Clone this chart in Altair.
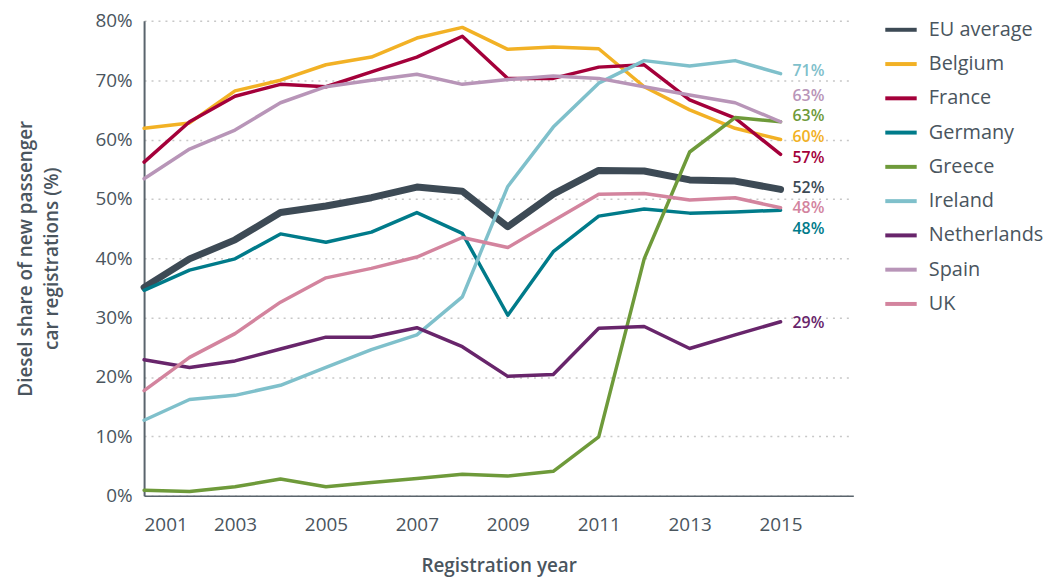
import altair as alt
import pandas as pd

years = list(range(2001, 2016))

series_names = ["EU average", "Belgium", "France", "Germany", "Greece",
                "Ireland", "Netherlands", "Spain", "UK"]

eu_average = [35.1, 39.9, 43.1, 47.7, 48.8, 50.2, 52.0, 51.3, 45.3, 50.8, 54.8, 54.7, 53.2, 53.0, 51.6]
belgium = [61.9, 62.8, 68.2, 70.0, 72.6, 73.9, 77.1, 78.9, 75.2, 75.6, 75.3, 68.9, 65.0, 61.9, 60.0]
france = [56.2, 63.0, 67.3, 69.3, 68.9, 71.4, 73.9, 77.4, 70.3, 70.3, 72.2, 72.6, 66.7, 63.6, 57.5]
germany = [34.6, 38.0, 39.9, 44.1, 42.7, 44.4, 47.7, 44.2, 30.4, 41.1, 47.1, 48.3, 47.6, 47.8, 48.1]
greece = [0.9, 0.7, 1.5, 2.8, 1.5, 2.2, 2.9, 3.6, 3.3, 4.1, 9.9, 39.9, 57.9, 63.7, 63.0]
ireland = [12.7, 16.2, 16.9, 18.6, 21.6, 24.6, 27.1, 33.5, 52.1, 62.1, 69.5, 73.3, 72.4, 73.3, 71.1]
netherlands = [22.9, 21.6, 22.7, 24.7, 26.7, 26.7, 28.3, 25.1, 20.1, 20.4, 28.2, 28.5, 24.8, 27.1, 29.3]
spain = [53.4, 58.4, 61.6, 66.2, 68.9, 70.0, 71.0, 69.3, 70.1, 70.7, 70.3, 68.9, 67.5, 66.2, 63.0]
uk = [17.7, 23.3, 27.3, 32.6, 36.7, 38.3, 40.2, 43.5, 41.8, 46.3, 50.8, 50.9, 49.8, 50.2, 48.5]

all_values = [eu_average, belgium, france, germany, greece, ireland, netherlands, spain, uk]

colors = ["#3d4a55", "#f2b125", "#a4003a", "#007b8a", "#6e9a3a",
          "#7fc0cb", "#68256b", "#b895b8", "#d3849e"]

# end labels (text and the value level at which each label sits)
label_series = ["Ireland", "Spain", "Greece", "Belgium", "France", "EU average", "UK", "Germany", "Netherlands"]
label_text = ["71%", "63%", "63%", "60%", "57%", "52%", "48%", "48%", "29%"]
label_level = [71.5, 67.4, 64.0, 60.5, 56.9, 51.9, 48.5, 45.0, 29.1]

rows = []
for name, vals in zip(series_names, all_values):
    for yr, v in zip(years, vals):
        rows.append({"year": yr, "share": v, "series": name,
                     "w": 7 if name == "EU average" else 3.5})
df = pd.DataFrame(rows)

lab = pd.DataFrame({"series": label_series, "text": label_text,
                    "level": label_level, "year": [2015] * len(label_series)})

FONT = "Open Sans"
TEXTC = "#4a555e"

color_scale = alt.Scale(domain=series_names, range=colors)

x_enc = alt.X("year:Q",
              scale=alt.Scale(domain=[2001, 2016.6], nice=False, zero=False),
              axis=alt.Axis(values=list(range(2001, 2016, 2)), format="d",
                            title="Registration year", grid=False, ticks=False,
                            labelPadding=20, titlePadding=22,
                            domainColor="#5a646c", domainWidth=1.5))

lines = alt.Chart(df).mark_line(strokeCap="round", strokeJoin="round").encode(
    x=x_enc,
    y=alt.Y("share:Q",
            scale=alt.Scale(domain=[0, 80], nice=False),
            axis=alt.Axis(values=list(range(0, 81, 10)),
                          labelExpr="datum.value + '%'",
                          title=["Diesel share of new passenger", "car registrations (%)"],
                          titleLineHeight=26,
                          ticks=False, labelPadding=12, titlePadding=34,
                          domainColor="#5a646c", domainWidth=2,
                          gridColor="#c8c8c8", gridDash=[2, 5], gridWidth=1.5)),
    color=alt.Color("series:N", scale=color_scale, sort=series_names,
                    legend=alt.Legend(title=None, orient="none",
                                      legendX=744, legendY=-9,
                                      symbolType="stroke", symbolStrokeWidth=4,
                                      symbolSize=1000, labelFontSize=20,
                                      labelColor=TEXTC, labelFont=FONT,
                                      labelOffset=10, rowPadding=6.5)),
    strokeWidth=alt.StrokeWidth("w:Q", scale=None, legend=None),
    order=alt.Order("w:Q"),
)

labels = alt.Chart(lab).mark_text(align="left", baseline="middle", dx=12,
                                  fontSize=16, fontWeight=600, font=FONT).encode(
    x=alt.X("year:Q"),
    y=alt.Y("level:Q"),
    text="text:N",
    color=alt.Color("series:N", scale=color_scale, legend=None),
)

chart = (lines + labels).properties(
    width=714, height=478,
    padding={"left": 8, "top": 2, "right": 5, "bottom": 5},
).configure_view(
    stroke=None
).configure_axis(
    labelFont=FONT, titleFont=FONT, labelFontSize=19, titleFontSize=19,
    labelColor=TEXTC, titleColor=TEXTC, titleFontWeight=600
)

chart.save("out.html", embed_options={"renderer": "svg", "actions": False})
